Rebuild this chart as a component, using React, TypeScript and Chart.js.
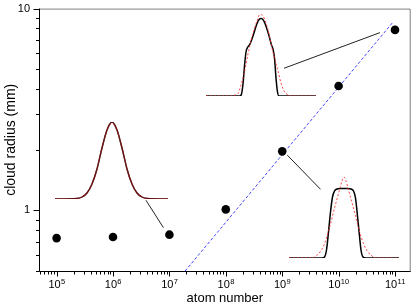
import React, { useEffect, useRef } from 'react';
import { Chart, registerables } from 'chart.js';

Chart.register(...registerables);

const FONT = "'Liberation Sans', Arial, sans-serif";

// Main scatter: atom number vs cloud radius (mm)
const atomNumbers = [1e5, 1e6, 1e7, 1e8, 1e9, 1e10, 1e11];
const cloudRadius = [0.728, 0.737, 0.757, 1.01, 1.96, 4.13, 7.84];

// Dashed N^(1/3) scaling line
const scalingX = [1.9e7, 9.3e10];
const scalingY = [0.5, 8.6];

// Leader lines from insets to points
const leader1X = [3.84e6, 7.84e6];
const leader1Y = [1.121, 0.82];
const leader2X = [1.076e9, 5.4e10];
const leader2Y = [5.06, 7.6];
const leader3X = [1.23e9, 4.78e9];
const leader3Y = [1.877, 1.27];

// Axis ranges and tick labels
const xMin = 4.875e4;
const xMax = 1.897e11;
const yMin = 0.5;
const yMax = 10;
const xDecades = [4, 5, 6, 7, 8, 9, 10, 11];
const xLabelExponents = [5, 6, 7, 8, 9, 10, 11];
const yDecades = [-1, 0, 1];
const yLabels = [1, 10];

// Inset profiles (position offset, profile height)
const inset1Pos = [-57, -35, -30, -25, -20, -15, -10, -5, 0, 5, 10, 15, 20, 25, 30, 35, 56];
const inset1Profile = [0, 0.5, 2, 6, 15, 30, 51, 69, 77, 69, 51, 30, 15, 6, 2, 0.5, 0];

const inset2Pos = [-55, -21, -19.5, -18, -16.5, -15, -13.5, -11, -7.5, -4, -1.5, 0, 1.5, 4, 7.5, 10.5, 12, 13.5, 15, 16.5, 18, 55];
const inset2Data = [0, 0, 2, 12, 30, 44, 48.5, 52, 61.5, 72.5, 77, 77.5, 77, 72.5, 62, 51, 47, 38, 18, 4, 0, 0];
const inset2FitPos = [-55, -30, -26, -23, -20, -17, -13, -10, -7, -4, -1, 2, 5, 8, 11, 14, 17, 20, 23, 27, 31, 55];
const inset2Fit = [0, 0, 1, 2.5, 11, 22, 42, 55, 66, 75, 81.7, 80, 73, 62, 48, 36, 25, 13, 5, 1, 0, 0];

const inset3Pos = [-55, -22, -19.5, -17.5, -15.5, -13.5, -11.5, -9.5, -7, -4, 0, 4, 7, 9.5, 11.5, 13.5, 15.5, 17, 19, 22, 55];
const inset3Data = [0, 0, 1, 8, 26, 46, 61, 67, 69, 69.5, 69.5, 69.5, 69, 67, 60, 42, 22, 8, 1, 0, 0];
const inset3FitPos = [-55, -32, -28, -24, -20, -16, -13, -10, -7, -4, -2, 0, 2, 4, 7, 10, 13, 16, 20, 24, 28, 32, 55];
const inset3Fit = [0, 0, 2, 6, 13, 25, 36, 48, 59, 70, 77, 81, 77, 70, 59, 48, 36, 25, 13, 6, 2, 0, 0];

const pts = (xs: number[], ys: number[]) => xs.map((x, i) => ({ x, y: ys[i] }));

const isDecade = (v: number) => Math.abs(Math.log10(v) - Math.round(Math.log10(v))) < 1e-9;

const minorTicks = (decades: number[], lo: number, hi: number) => {
  const out: { value: number }[] = [];
  decades.forEach((d) => {
    for (let k = 1; k <= 9; k++) {
      const v = k * Math.pow(10, d);
      if (v >= lo * 0.9999 && v <= hi * 1.0001) out.push({ value: v });
    }
  });
  return out;
};

const framePlugin = {
  id: 'frameTicks',
  afterDraw(chart: any) {
    const { ctx, chartArea: a, scales } = chart;
    ctx.save();
    ctx.lineWidth = 1;
    ctx.strokeStyle = '#808080';
    ctx.beginPath();
    ctx.moveTo(a.left, a.top + 0.5);
    ctx.lineTo(a.right - 0.5, a.top + 0.5);
    ctx.lineTo(a.right - 0.5, a.bottom);
    ctx.stroke();
    ctx.strokeStyle = '#000';
    ctx.beginPath();
    ctx.moveTo(a.left + 0.5, a.top);
    ctx.lineTo(a.left + 0.5, a.bottom + 0.5);
    ctx.lineTo(a.right, a.bottom + 0.5);
    const xs = scales.x;
    xs.ticks.forEach((t: any) => {
      const p = Math.round(xs.getPixelForValue(t.value)) + 0.5;
      const len = isDecade(t.value) ? 5 : 3;
      ctx.moveTo(p, a.bottom);
      ctx.lineTo(p, a.bottom + 0.5 + len);
    });
    const ys = scales.y;
    ys.ticks.forEach((t: any) => {
      const p = Math.round(ys.getPixelForValue(t.value)) + 0.5;
      const len = isDecade(t.value) ? 6 : 3.5;
      ctx.moveTo(a.left + 0.5, p);
      ctx.lineTo(a.left + 0.5 - len, p);
    });
    ctx.stroke();
    // x tick labels: 10 with superscript exponent
    ctx.fillStyle = '#000';
    ctx.textBaseline = 'alphabetic';
    ctx.textAlign = 'left';
    const baseY = a.bottom + 17;
    xLabelExponents.forEach((e) => {
      const p = xs.getPixelForValue(Math.pow(10, e));
      ctx.font = `11px ${FONT}`;
      const wb = ctx.measureText('10').width;
      ctx.font = `7.5px ${FONT}`;
      const we = ctx.measureText(String(e)).width;
      const start = p - (wb + we) / 2;
      ctx.font = `11px ${FONT}`;
      ctx.fillText('10', start, baseY);
      ctx.font = `7.5px ${FONT}`;
      ctx.fillText(String(e), start + wb + 0.3, baseY - 4.5);
    });
    ctx.restore();
  },
};

type InsetSpec = {
  left: number; top: number; width: number; height: number;
  xMin: number; xMax: number; yMax: number;
  datasets: any[];
};

const PAD = 3;

function Inset({ spec }: { spec: InsetSpec }) {
  const ref = useRef<HTMLCanvasElement>(null);
  const w = spec.width + 2 * PAD;
  const h = spec.height + 2 * PAD;
  useEffect(() => {
    if (!ref.current) return;
    const chart = new Chart(ref.current, {
      type: 'line',
      data: { datasets: spec.datasets },
      options: {
        responsive: false,
        animation: false,
        layout: { padding: PAD },
        elements: { point: { radius: 0 } },
        plugins: { legend: { display: false }, tooltip: { enabled: false } },
        scales: {
          x: { type: 'linear', display: false, min: spec.xMin, max: spec.xMax },
          y: { type: 'linear', display: false, min: 0, max: spec.yMax },
        },
      },
    });
    return () => chart.destroy();
  }, []);
  return (
    <canvas
      ref={ref}
      width={w}
      height={h}
      style={{ position: 'absolute', left: spec.left - PAD, top: spec.top - PAD, width: w, height: h }}
    />
  );
}

const solid = (data: any[], color: string, width: number) => ({
  data, borderColor: color, borderWidth: width, cubicInterpolationMode: 'monotone', fill: false, pointRadius: 0,
});
const dotted = (data: any[]) => ({
  data, borderColor: 'rgba(255,40,40,0.85)', borderWidth: 1, borderDash: [2, 2], cubicInterpolationMode: 'monotone', fill: false, pointRadius: 0,
});

const insets: InsetSpec[] = [
  {
    left: 55, top: 122, width: 113, height: 77, xMin: -57, xMax: 56, yMax: 77,
    datasets: [
      solid(pts(inset1Pos, inset1Profile), 'rgba(200,30,30,0.55)', 1.4),
      solid(pts(inset1Pos, inset1Profile), '#000', 1.4),
    ],
  },
  {
    left: 206, top: 14, width: 110, height: 82, xMin: -55, xMax: 55, yMax: 82,
    datasets: [
      dotted(pts(inset2FitPos, inset2Fit)),
      solid(pts(inset2Pos, inset2Data), '#000', 1.5),
    ],
  },
  {
    left: 289, top: 176, width: 110, height: 82, xMin: -55, xMax: 55, yMax: 82,
    datasets: [
      dotted(pts(inset3FitPos, inset3Fit)),
      solid(pts(inset3Pos, inset3Data), '#000', 1.5),
    ],
  },
];

export default function App() {
  const ref = useRef<HTMLCanvasElement>(null);
  useEffect(() => {
    if (!ref.current) return;
    const leader = (xs: number[], ys: number[]) => ({
      type: 'line', data: pts(xs, ys), borderColor: '#222', borderWidth: 1, pointRadius: 0, showLine: true, fill: false,
    });
    const chart = new Chart(ref.current, {
      type: 'scatter',
      data: {
        datasets: [
          {
            data: pts(atomNumbers, cloudRadius),
            backgroundColor: '#000', borderWidth: 0, pointRadius: 4.3, pointHoverRadius: 4.3,
          },
          {
            type: 'line', data: pts(scalingX, scalingY), borderColor: 'rgb(70,70,255)', borderWidth: 1,
            borderDash: [3, 2], pointRadius: 0, fill: false,
          },
          leader(leader1X, leader1Y),
          leader(leader2X, leader2Y),
          leader(leader3X, leader3Y),
        ] as any,
      },
      options: {
        responsive: false,
        animation: false,
        layout: { padding: { top: 8, right: 2, left: 0, bottom: 0 } },
        plugins: { legend: { display: false }, tooltip: { enabled: false } },
        scales: {
          x: {
            type: 'logarithmic', min: xMin, max: xMax,
            grid: { display: false, drawTicks: false }, border: { display: false },
            afterBuildTicks: (s: any) => { s.ticks = minorTicks(xDecades, xMin, xMax); },
            afterFit: (s: any) => { s.height = 35; },
            ticks: {
              autoSkip: false, maxRotation: 0, padding: 0, color: '#000',
              font: { family: FONT, size: 10 },
              callback: () => '',
            },
            title: {
              display: true, text: 'atom number', color: '#000',
              font: { family: FONT, size: 13 }, padding: { top: 0, bottom: 0 },
            },
          },
          y: {
            type: 'logarithmic', min: yMin, max: yMax,
            grid: { display: false, drawTicks: true, tickLength: 7 }, border: { display: false },
            afterBuildTicks: (s: any) => { s.ticks = minorTicks(yDecades, yMin, yMax); },
            afterFit: (s: any) => { s.width = 39; },
            ticks: {
              autoSkip: false, padding: 2, color: '#000',
              font: { family: FONT, size: 11 },
              callback: (v: any) => {
                const l = yLabels.find((q) => Math.abs(q - v) < 1e-9);
                return l === undefined ? '' : String(l);
              },
            },
            title: {
              display: true, text: 'cloud radius (mm)', color: '#000',
              font: { family: FONT, size: 14 }, padding: { top: 3, bottom: 0 },
            },
          },
        },
      },
      plugins: [framePlugin],
    });
    return () => chart.destroy();
  }, []);
  return (
    <div style={{ position: 'fixed', left: 0, top: 0, width: 415, height: 306, background: '#fff' }}>
      <canvas ref={ref} width={415} height={306} style={{ position: 'absolute', left: 0, top: 0, width: 415, height: 306 }} />
      {insets.map((s, i) => <Inset key={i} spec={s} />)}
    </div>
  );
}
